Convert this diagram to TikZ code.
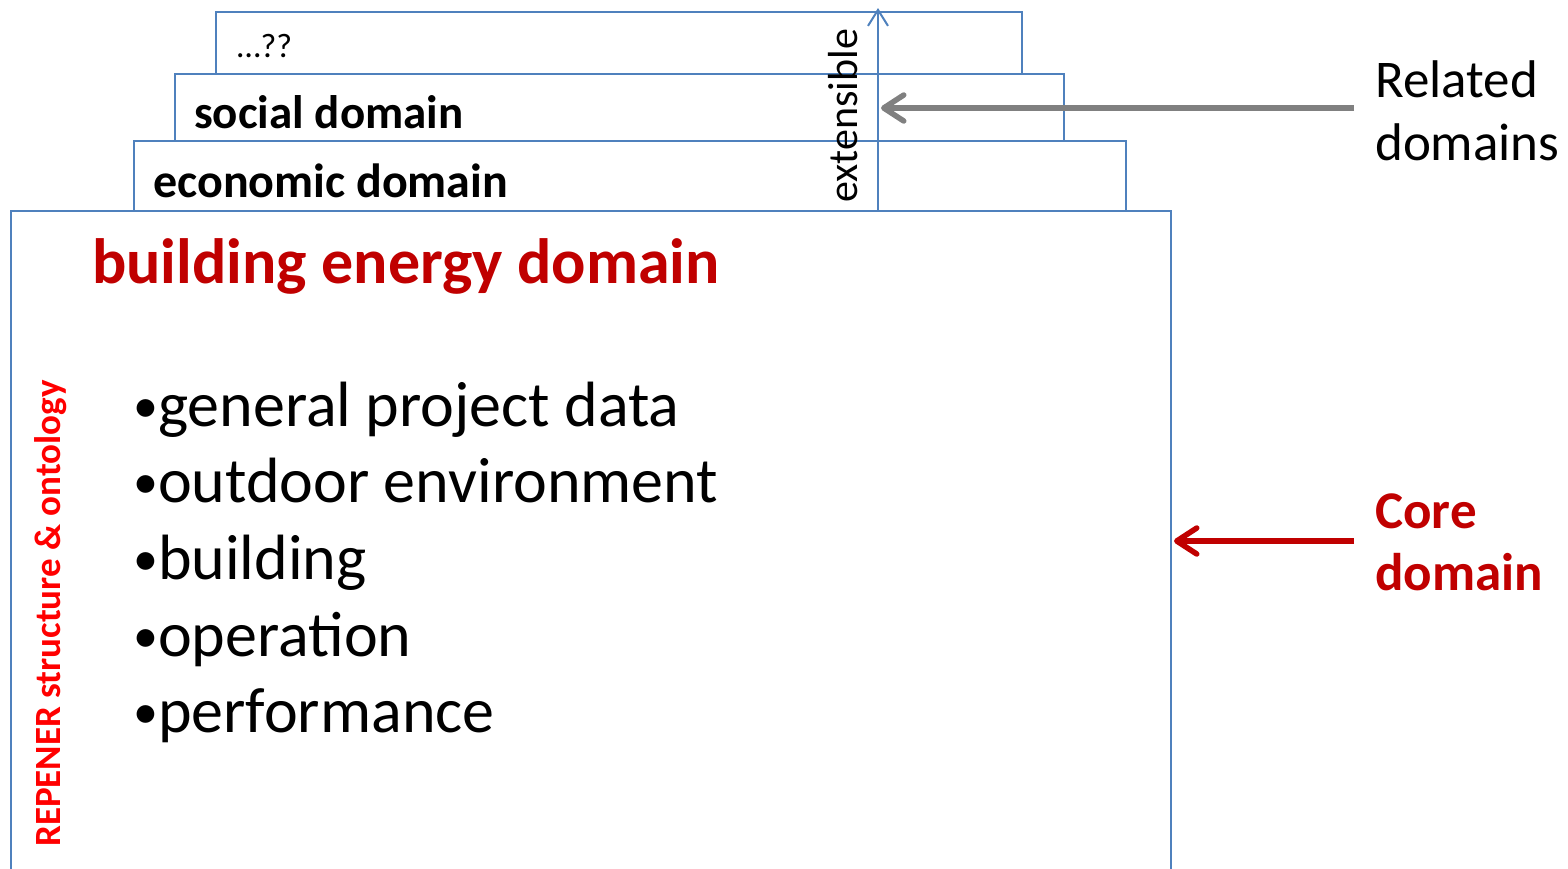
\documentclass[tikz,border=0pt]{standalone}
\usepackage{fontspec}
\setmainfont{Carlito}
\usetikzlibrary{arrows.meta}
\definecolor{boxblue}{HTML}{4F81BD}
\definecolor{darkred}{HTML}{C00000}
\definecolor{brightred}{HTML}{FF0000}
\definecolor{arrowgray}{HTML}{808080}
\newcommand{\fsz}[1]{\fontsize{#1}{#1}\selectfont}
\newcommand{\blt}{\raisebox{3.5pt}{\fsz{50}•}\hspace{0pt}}
\tikzset{
  layer/.style={draw=boxblue, line width=2pt},
  txt/.style={inner sep=0pt, anchor=base west},
  bullet/.style={txt, font=\fsz{64}},
  pointer/.style={line width=5.5pt, -{Straight Barb[round, length=20pt, width=26pt]}},
}
\begin{document}
\begin{tikzpicture}[x=1pt, y=-1pt]
\useasboundingbox (0,0) rectangle (1568,868);

% stacked domain layers, back to front
\draw[layer] (216,74) -- (216,12) -- (1022,12) -- (1022,74);
\draw[layer] (175,141) -- (175,74) -- (1064,74) -- (1064,141);
\draw[layer] (134,211) -- (134,141) -- (1126,141) -- (1126,211);
\draw[layer] (11,880) -- (11,211) -- (1171,211) -- (1171,880);

% extensibility axis
\coordinate (extbase) at (878,211);
\coordinate (exttop) at (878,8);
\draw[draw=boxblue, line width=2pt, -{Straight Barb[length=16pt, width=20pt]}] (extbase) -- (exttop);
\node[txt, rotate=90, font=\fsz{42}] (ext) at (857,203) {extensible};

% layer titles
\node[txt, font=\fsz{34}] (other) at (237,57) {…??};
\node[txt, font=\bfseries\fsz{47}] (social) at (194,128) {social domain};
\node[txt, font=\bfseries\fsz{48}] (econ) at (153,197) {economic domain};

% core domain content
\node[txt, font=\bfseries\fsz{64}, text=darkred] (core) at (92,283) {building energy domain};
\node[txt, rotate=90, font=\bfseries\fsz{37}, text=brightred] (repener) at (60,847) {REPENER structure \& ontology};
\node[bullet] (b1) at (133,426) {\blt general project data};
\node[bullet] (b2) at (133,502) {\blt outdoor environment};
\node[bullet] (b3) at (133,579) {\blt building};
\node[bullet] (b4) at (133,656) {\blt operation};
\node[bullet] (b5) at (133,732) {\blt performance};

% side labels and pointers
\node[txt, font=\fsz{53}] (related) at (1375,97) {Related};
\node[txt, font=\fsz{53}] (related2) at (1375,160) {domains};
\node[txt, font=\bfseries\fsz{53}, text=darkred] (coredom) at (1375,528) {Core};
\node[txt, font=\bfseries\fsz{53}, text=darkred] (coredom2) at (1375,590) {domain};

\coordinate (relfrom) at (1354,108);
\coordinate (relto) at (881,108);
\draw[pointer, draw=arrowgray] (relfrom) -- (relto);
\coordinate (corefrom) at (1354,541);
\coordinate (coreto) at (1174,541);
\draw[pointer, draw=darkred] (corefrom) -- (coreto);
\end{tikzpicture}
\end{document}
